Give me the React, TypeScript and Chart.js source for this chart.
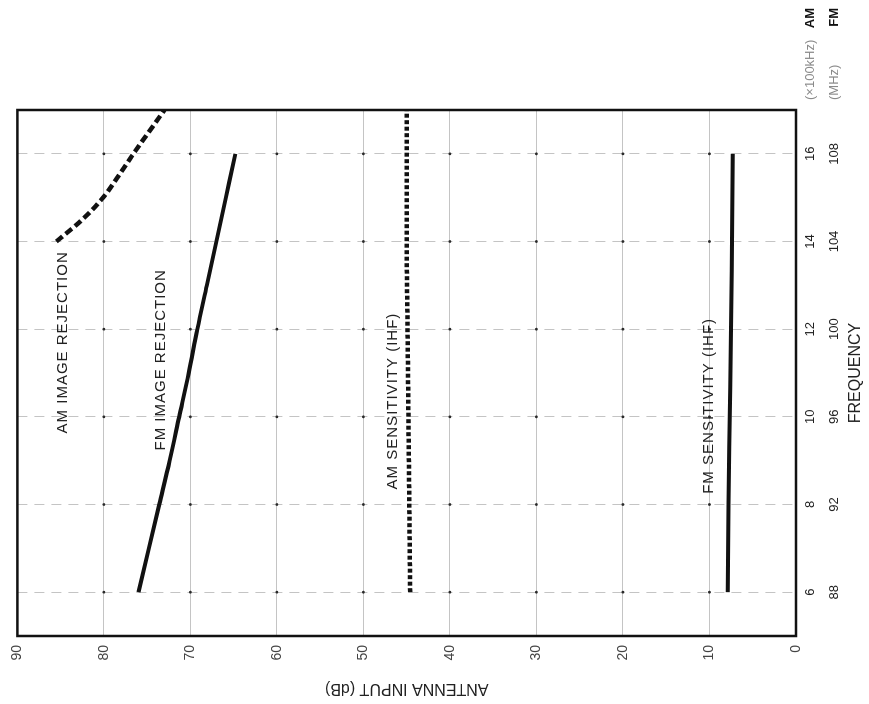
import React, { useEffect, useRef } from "react";
import { Chart, registerables } from "chart.js";

Chart.register(...registerables);

// Frequency axis (AM in x100kHz, FM in MHz share the same positions)
const AM_FREQ_TICKS = [6, 8, 10, 12, 14, 16];
const FM_FREQ_TICKS = [88, 92, 96, 100, 104, 108];
const DB_TICKS = [0, 10, 20, 30, 40, 50, 60, 70, 80, 90];

// Curves (x in AM units, y in dB)
const FM_IMAGE_FREQ = [6, 7, 8, 9, 10, 11, 12, 13, 14, 15, 16];
const FM_IMAGE_DB = [76.0, 74.8, 73.6, 72.4, 71.3, 70.2, 69.2, 68.1, 67.0, 65.9, 64.8];

const AM_IMAGE_FREQ = [14, 14.5, 15, 15.5, 16, 16.5, 17];
const AM_IMAGE_DB = [85.5, 82.5, 80.1, 78.3, 76.6, 74.8, 73.0];

const AM_SENS_FREQ = [6, 8, 10, 12, 14, 16, 17];
const AM_SENS_DB = [44.6, 44.7, 44.8, 44.9, 45.0, 45.0, 45.0];

const FM_SENS_FREQ = [6, 8, 10, 12, 14, 16];
const FM_SENS_DB = [7.9, 7.8, 7.65, 7.5, 7.4, 7.3];

const CURVE_LABELS = ["AM IMAGE REJECTION", "FM IMAGE REJECTION", "AM SENSITIVITY (IHF)", "FM SENSITIVITY (IHF)"];
const CURVE_LABEL_FREQ = [11.7, 11.3, 10.36, 10.25];
const CURVE_LABEL_DB = [84.7, 73.4, 46.6, 10.1];

const AXIS_X_TITLE = "FREQUENCY";
const AXIS_Y_TITLE = "ANTENNA INPUT (dB)";
const UNIT_AM = "(×100kHz)";
const UNIT_FM = "(MHz)";
const BAND_AM = "AM";
const BAND_FM = "FM";

const FONT = "'Liberation Sans', Arial, sans-serif";

const pts = (xs: number[], ys: number[]) => xs.map((x, i) => ({ x, y: ys[i] }));

const framePlugin = {
  id: "frameAndLabels",
  beforeDatasetsDraw(chart: any) {
    const { ctx, scales } = chart;
    const x = scales.x;
    const y = scales.y;
    ctx.save();
    ctx.fillStyle = "#2a2a2a";
    AM_FREQ_TICKS.forEach((f) => {
      DB_TICKS.forEach((d) => {
        if (d === 0 || d === 90) return;
        ctx.beginPath();
        ctx.arc(x.getPixelForValue(f), y.getPixelForValue(d), 1.4, 0, Math.PI * 2);
        ctx.fill();
      });
    });
    ctx.restore();
  },
  afterDatasetsDraw(chart: any) {
    const { ctx, chartArea: a, scales } = chart;
    const x = scales.x;
    const y = scales.y;
    ctx.save();
    // frame
    ctx.strokeStyle = "#111";
    ctx.lineWidth = 2.5;
    ctx.strokeRect(a.left, a.top, a.right - a.left, a.bottom - a.top);
    // curve labels
    ctx.fillStyle = "#222";
    ctx.font = `15px ${FONT}`;
    try { (ctx as any).letterSpacing = "1px"; } catch (e) {}
    ctx.textAlign = "center";
    ctx.textBaseline = "middle";
    CURVE_LABELS.forEach((t, i) => {
      ctx.fillText(t, x.getPixelForValue(CURVE_LABEL_FREQ[i]), y.getPixelForValue(CURVE_LABEL_DB[i]));
    });
    try { (ctx as any).letterSpacing = "0px"; } catch (e) {}
    // unit labels next to the frequency tick rows
    const row1 = x.top + 14;
    const row2 = x.top + 38;
    ctx.textAlign = "left";
    ctx.fillStyle = "#8a8a8a";
    ctx.font = `13px ${FONT}`;
    ctx.fillText(UNIT_AM, a.right + 10, row1);
    ctx.fillText(UNIT_FM, a.right + 10, row2);
    ctx.textAlign = "right";
    ctx.fillStyle = "#111";
    ctx.font = `bold 13px ${FONT}`;
    ctx.fillText(BAND_AM, a.right + 102, row1);
    ctx.fillText(BAND_FM, a.right + 102, row2);
    ctx.restore();
  },
};

export default function App() {
  const ref = useRef<HTMLCanvasElement | null>(null);

  useEffect(() => {
    if (!ref.current) return;
    const lineBase = {
      borderColor: "#111",
      pointRadius: 0,
      fill: false,
      tension: 0.35,
      cubicInterpolationMode: "monotone" as const,
      borderCapStyle: "butt" as const,
    };
    const chart = new Chart(ref.current, {
      type: "line",
      data: {
        datasets: [
          { ...lineBase, label: "FM IMAGE REJECTION", data: pts(FM_IMAGE_FREQ, FM_IMAGE_DB), borderWidth: 4 },
          { ...lineBase, label: "AM IMAGE REJECTION", data: pts(AM_IMAGE_FREQ, AM_IMAGE_DB), borderWidth: 4.5, borderDash: [8, 4] },
          { ...lineBase, label: "AM SENSITIVITY (IHF)", data: pts(AM_SENS_FREQ, AM_SENS_DB), borderWidth: 4.5, borderDash: [4, 2.5] },
          { ...lineBase, label: "FM SENSITIVITY (IHF)", data: pts(FM_SENS_FREQ, FM_SENS_DB), borderWidth: 4 },
        ],
      },
      options: {
        responsive: false,
        animation: false,
        events: [],
        layout: { padding: { left: 0, top: 14, right: 110, bottom: 0 } },
        plugins: { legend: { display: false }, tooltip: { enabled: false } },
        scales: {
          x: {
            type: "linear",
            min: 5,
            max: 17,
            afterBuildTicks: (s: any) => {
              s.ticks = AM_FREQ_TICKS.map((v) => ({ value: v }));
            },
            afterFit: (s: any) => {
              s.height = 73;
            },
            grid: { color: "#c4c4c4", lineWidth: 1, drawTicks: false },
            border: { display: false, dash: [10, 7] },
            ticks: {
              padding: 2,
              color: "#222",
              maxRotation: 0,
              autoSkip: false,
              font: { family: FONT, size: 13, lineHeight: 1.85 },
              callback: (v: any) => {
                const i = AM_FREQ_TICKS.indexOf(Number(v));
                return i >= 0 ? [String(AM_FREQ_TICKS[i]), String(FM_FREQ_TICKS[i])] : "";
              },
            },
            title: {
              display: true,
              text: AXIS_X_TITLE,
              color: "#222",
              font: { family: FONT, size: 16 },
              padding: { top: 0, bottom: 4 },
            },
          },
          y: {
            type: "linear",
            min: 0,
            max: 90,
            afterBuildTicks: (s: any) => {
              s.ticks = DB_TICKS.map((v) => ({ value: v }));
            },
            afterFit: (s: any) => {
              s.width = 68;
            },
            grid: { color: "#c4c4c4", lineWidth: 1, drawTicks: false },
            border: { display: false },
            ticks: {
              padding: 9,
              color: "#444",
              font: { family: FONT, size: 14 },
            },
            title: {
              display: true,
              text: AXIS_Y_TITLE,
              color: "#222",
              font: { family: FONT, size: 16 },
              padding: { top: 6, bottom: 0 },
            },
          },
        },
      },
      plugins: [framePlugin],
    });
    return () => chart.destroy();
  }, []);

  return (
    <div
      style={{
        position: "fixed",
        left: 0,
        top: 0,
        width: 869,
        height: 704,
        overflow: "hidden",
        background: "#fff",
      }}
    >
      <div
        style={{
          position: "absolute",
          left: 0,
          top: 0,
          width: 704,
          height: 869,
          transformOrigin: "0 0",
          transform: "translateY(704px) rotate(-90deg)",
        }}
      >
        <canvas ref={ref} width={704} height={869} style={{ width: 704, height: 869, display: "block" }} />
      </div>
    </div>
  );
}
